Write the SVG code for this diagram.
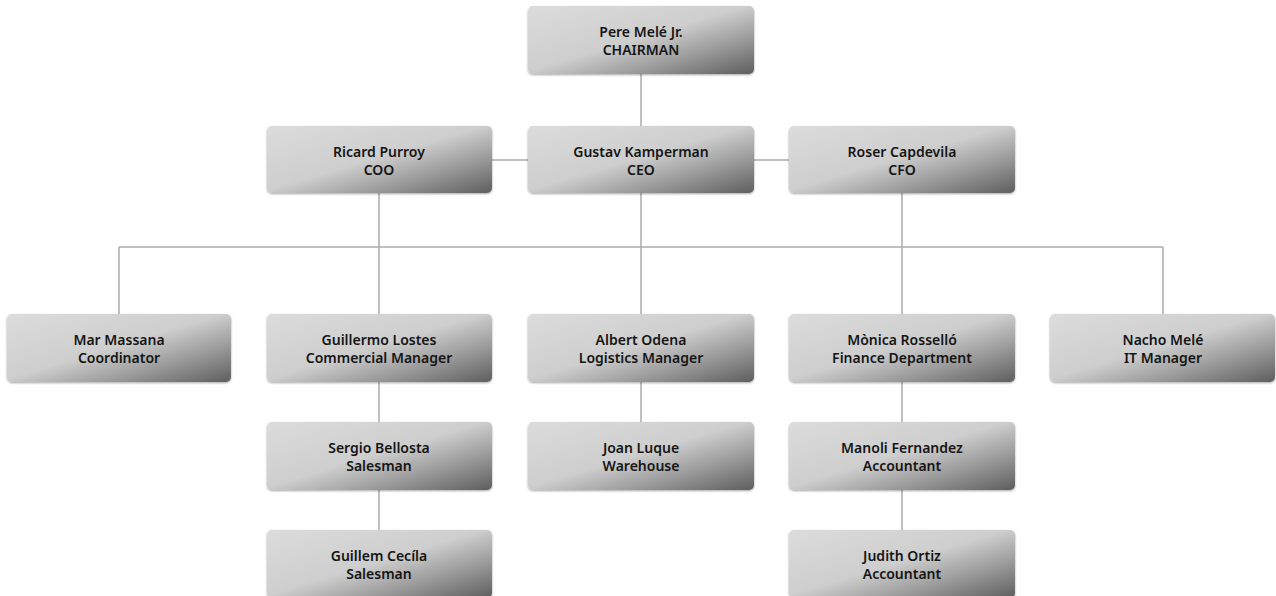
<svg xmlns="http://www.w3.org/2000/svg" width="1276" height="596" viewBox="0 0 1276 596">
<defs>
<linearGradient id="g" x1="0" y1="0" x2="1" y2="1">
<stop offset="0" stop-color="#dcdcdc"/>
<stop offset="0.48" stop-color="#cecece"/>
<stop offset="0.72" stop-color="#9c9c9c"/>
<stop offset="1" stop-color="#5e5e5e"/>
</linearGradient>
<filter id="sh" x="-5%" y="-10%" width="110%" height="130%">
<feDropShadow dx="0" dy="1" stdDeviation="1.2" flood-color="#000" flood-opacity="0.35"/>
</filter>
</defs>
<style>
.box{fill:url(#g);filter:url(#sh)}
.t{font-family:"Noto Sans","Open Sans",sans-serif;font-weight:600;font-size:14px;fill:#151515;text-anchor:middle}
.c{stroke:#acacac;stroke-width:1.5;fill:none}
</style>
<rect width="1276" height="596" fill="#fff"/>
<g id="connectors">
<path class="c" d="M641 74V126M491 160H528M754 160H789M641 193V314M379 193V314M902 193V314M119 247H1163M119 247V314M1163 247V314M379 382V422M379 490V530M641 382V422M902 382V422M902 490V530"/>
</g>
<g id="chairman"><rect class="box" x="528" y="6" width="226" height="68" rx="5"/><text class="t" x="641" y="37">Pere Melé Jr.</text><text class="t" x="641" y="55">CHAIRMAN</text></g>
<g id="coo"><rect class="box" x="267" y="126" width="225" height="67" rx="5"/><text class="t" x="379" y="157">Ricard Purroy</text><text class="t" x="379" y="175">COO</text></g>
<g id="ceo"><rect class="box" x="528" y="126" width="226" height="67" rx="5"/><text class="t" x="641" y="157">Gustav Kamperman</text><text class="t" x="641" y="175">CEO</text></g>
<g id="cfo"><rect class="box" x="789" y="126" width="226" height="67" rx="5"/><text class="t" x="902" y="157">Roser Capdevila</text><text class="t" x="902" y="175">CFO</text></g>
<g id="mar"><rect class="box" x="7" y="314" width="224" height="68" rx="5"/><text class="t" x="119" y="345">Mar Massana</text><text class="t" x="119" y="363">Coordinator</text></g>
<g id="guillermo"><rect class="box" x="267" y="314" width="225" height="68" rx="5"/><text class="t" x="379" y="345">Guillermo Lostes</text><text class="t" x="379" y="363">Commercial Manager</text></g>
<g id="albert"><rect class="box" x="528" y="314" width="226" height="68" rx="5"/><text class="t" x="641" y="345">Albert Odena</text><text class="t" x="641" y="363">Logistics Manager</text></g>
<g id="monica"><rect class="box" x="789" y="314" width="226" height="68" rx="5"/><text class="t" x="902" y="345">Mònica Rosselló</text><text class="t" x="902" y="363">Finance Department</text></g>
<g id="nacho"><rect class="box" x="1050" y="314" width="225" height="68" rx="5"/><text class="t" x="1163" y="345">Nacho Melé</text><text class="t" x="1163" y="363">IT Manager</text></g>
<g id="sergio"><rect class="box" x="267" y="422" width="225" height="68" rx="5"/><text class="t" x="379" y="453">Sergio Bellosta</text><text class="t" x="379" y="471">Salesman</text></g>
<g id="joan"><rect class="box" x="528" y="422" width="226" height="68" rx="5"/><text class="t" x="641" y="453">Joan Luque</text><text class="t" x="641" y="471">Warehouse</text></g>
<g id="manoli"><rect class="box" x="789" y="422" width="226" height="68" rx="5"/><text class="t" x="902" y="453">Manoli Fernandez</text><text class="t" x="902" y="471">Accountant</text></g>
<g id="guillem"><rect class="box" x="267" y="530" width="225" height="68" rx="5"/><text class="t" x="379" y="561">Guillem Cecíla</text><text class="t" x="379" y="579">Salesman</text></g>
<g id="judith"><rect class="box" x="789" y="530" width="226" height="68" rx="5"/><text class="t" x="902" y="561">Judith Ortiz</text><text class="t" x="902" y="579">Accountant</text></g>
</svg>
